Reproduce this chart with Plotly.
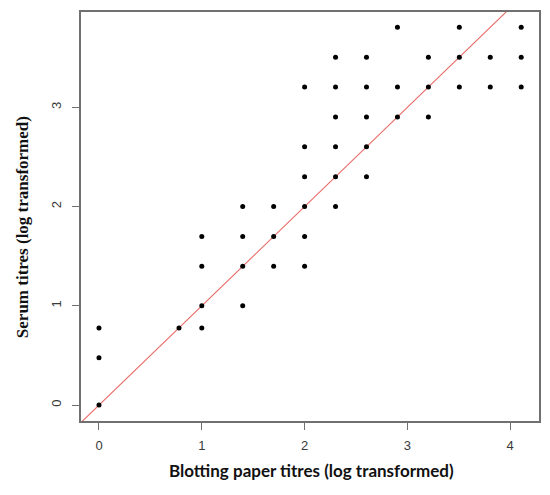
import plotly.graph_objects as go

# Log-transformed titres (blotting paper x, serum y)
blot = [0, 0, 0, 0.778, 1, 1, 1, 1,
        1.398, 1.398, 1.398, 1.398, 1.699, 1.699, 1.699, 2, 2, 2, 2.301,
        2, 2.301, 2.602,
        2, 2.301, 2.602,
        2.301, 2.602, 2.903, 3.204,
        2, 2.301, 2.602, 2.903, 3.204, 3.505, 3.806, 4.107,
        2.301, 2.602, 3.204, 3.505, 3.806, 4.107,
        2.903, 3.505, 4.107]
serum = [0, 0.477, 0.778, 0.778, 0.778, 1, 1.398, 1.699,
         1, 1.398, 1.699, 2, 1.398, 1.699, 2, 1.398, 1.699, 2, 2,
         2.301, 2.301, 2.301,
         2.602, 2.602, 2.602,
         2.903, 2.903, 2.903, 2.903,
         3.204, 3.204, 3.204, 3.204, 3.204, 3.204, 3.204, 3.204,
         3.505, 3.505, 3.505, 3.505, 3.505, 3.505,
         3.806, 3.806, 3.806]

x_ticks = [0, 1, 2, 3, 4]
y_ticks = [0, 1, 2, 3]
x_range = [-0.175, 4.28]
y_range = [-0.16, 3.96]
x_title = "Blotting paper titres (log transformed)"
y_title = "Serum titres (log transformed)"

fig = go.Figure()
# identity line y = x spanning the axes
line_x = [min(x_range[0], y_range[0]) - 1, max(x_range[1], y_range[1]) + 1]
fig.add_trace(go.Scatter(x=line_x, y=line_x, mode="lines",
                         line=dict(color="#e86a66", width=1.1),
                         hoverinfo="skip", showlegend=False))
fig.add_trace(go.Scatter(x=blot, y=serum, mode="markers",
                         marker=dict(color="black", size=5),
                         showlegend=False))

axis_common = dict(showgrid=False, zeroline=False, showline=True, mirror=True,
                   linecolor="#707070", linewidth=1.5, ticks="outside",
                   ticklen=7, tickwidth=1.2, tickcolor="#707070", automargin=False,
                   tickfont=dict(family="Liberation Sans, Arial", size=13, color="#3a3a3a"))

fig.update_xaxes(range=x_range, tickvals=x_ticks, ticklabelstandoff=5, **axis_common)
fig.update_yaxes(range=y_range, tickvals=y_ticks, tickangle=-90, ticklabelstandoff=6,
                 **axis_common)

fig.add_annotation(text=x_title, xref="paper", yref="paper", x=0.504, y=0,
                   xanchor="center", yanchor="middle", yshift=-49, showarrow=False,
                   font=dict(family="Lato, Open Sans", size=17, color="#111111", weight="bold"))
fig.add_annotation(text=y_title, xref="paper", yref="paper", x=0, y=0.474,
                   xanchor="center", yanchor="middle", xshift=-59, textangle=-90,
                   showarrow=False,
                   font=dict(family="Liberation Serif, Times New Roman", size=17,
                             color="#111111", weight="bold"))

fig.update_layout(width=542, height=487,
                  margin=dict(l=73, r=11, t=4, b=74),
                  plot_bgcolor="white", paper_bgcolor="white")

fig.write_html("out.html")
